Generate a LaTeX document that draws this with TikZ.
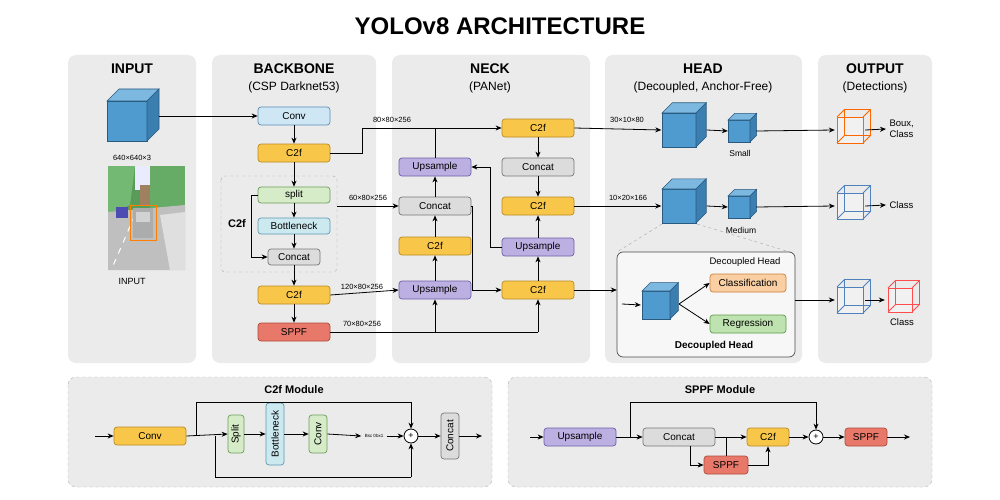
\documentclass[tikz,border=0pt]{standalone}
\usepackage{fontspec}
\setmainfont{Liberation Sans}
\usetikzlibrary{arrows.meta,calc}
\definecolor{panel}{HTML}{EBEBEB}
\definecolor{convF}{HTML}{CFE6F5}\definecolor{convD}{HTML}{5A8FB5}
\definecolor{c2fF}{HTML}{F8C74A}\definecolor{c2fD}{HTML}{B88A20}
\definecolor{spF}{HTML}{D6ECC8}\definecolor{spD}{HTML}{6E9E5A}
\definecolor{bnF}{HTML}{CDE9F0}\definecolor{bnD}{HTML}{5A9AB0}
\definecolor{ccF}{HTML}{DCDCDC}\definecolor{ccD}{HTML}{777777}
\definecolor{sppF}{HTML}{E8796A}\definecolor{sppD}{HTML}{B04A3A}
\definecolor{upF}{HTML}{BCB0E2}\definecolor{upD}{HTML}{6E5FA8}
\definecolor{clF}{HTML}{F9CFA3}\definecolor{clD}{HTML}{C9803A}
\definecolor{rgF}{HTML}{BFE3B0}\definecolor{rgD}{HTML}{5E9A4A}
\definecolor{cubeF}{HTML}{4F9BD0}\definecolor{cubeT}{HTML}{7DB8E0}\definecolor{cubeR}{HTML}{3A7FB0}\definecolor{cubeD}{HTML}{2A5A80}
\newcommand\solidcube[3]{\begin{scope}[shift={(#1,#2)},x=#3pt,y=-#3pt]
\draw[cubeD,fill=cubeF,line width=0.6pt](-1,-1) rectangle (1,1);
\draw[cubeD,fill=cubeT,line width=0.6pt](-1,-1)--(-0.4,-1.6)--(1.6,-1.6)--(1,-1)--cycle;
\draw[cubeD,fill=cubeR,line width=0.6pt](1,-1)--(1.6,-1.6)--(1.6,0.4)--(1,1)--cycle;
\end{scope}}
\newcommand\wirecube[4]{\begin{scope}[shift={(#1,#2)},x=#3pt,y=-#3pt]
\draw[#4,line width=0.8pt,fill=white,fill opacity=0.3](-1,-1) rectangle (1,1);
\draw[#4,line width=0.8pt](-0.4,-1.6) rectangle (1.6,0.4);
\draw[#4,line width=0.8pt](-1,-1)--(-0.4,-1.6) (1,-1)--(1.6,-1.6) (1,1)--(1.6,0.4) (-1,1)--(-0.4,0.4);
\end{scope}}
\tikzset{
 box/.style={draw,rounded corners=3pt,minimum width=72pt,minimum height=18pt,inner sep=1pt,font=\fontsize{10}{12}\selectfont,line width=0.7pt},
 conv/.style={box,fill=convF,draw=convD},
 c2f/.style={box,fill=c2fF,draw=c2fD},
 split/.style={box,fill=spF,draw=spD},
 bneck/.style={box,fill=bnF,draw=bnD},
 concat/.style={box,fill=ccF,draw=ccD},
 sppf/.style={box,fill=sppF,draw=sppD},
 ups/.style={box,fill=upF,draw=upD},
 arr/.style={-{Stealth[length=6pt,width=5pt]},line width=0.8pt},
 ln/.style={line width=0.8pt},
 pan/.style={fill=panel,rounded corners=8pt},
 hd/.style={font=\fontsize{14}{16}\selectfont\bfseries},
 sub/.style={font=\fontsize{12}{14}\selectfont},
 lab/.style={font=\fontsize{7.5}{9}\selectfont},
 vbox/.style={box,rotate=90,minimum height=16pt},
 plus/.style={draw,circle,fill=white,inner sep=0pt,minimum size=14pt,line width=0.8pt,font=\small},
}
\begin{document}
\begin{tikzpicture}[x=1pt,y=-1pt]
\useasboundingbox (0,0) rectangle (1000,500);
\fill[white](0,0) rectangle (1000,500);
\node[font=\fontsize{24}{28}\selectfont\bfseries] (title) at (500,26) {YOLOv8 ARCHITECTURE};
% panels
\fill[pan](68,55) rectangle (196,363);
\fill[pan](212,55) rectangle (376,363);
\fill[pan](392,55) rectangle (590,363);
\fill[pan](605,55) rectangle (802,363);
\fill[pan](818,55) rectangle (932,363);
\draw[pan,draw=gray!60,dashed](68,377) rectangle (492,487);
\draw[pan,draw=gray!60,dashed](508,377) rectangle (932,487);
\node[hd] (h1) at (132,69) {INPUT};
\node[hd] (h2) at (294,69) {BACKBONE};
\node[sub] (s2) at (294,87) {(CSP Darknet53)};
\node[hd] (h3) at (490,69) {NECK};
\node[sub] (s3) at (490,87) {(PANet)};
\node[hd] (h4) at (703,69) {HEAD};
\node[sub] (s4) at (703,87) {(Decoupled, Anchor-Free)};
\node[hd] (h5) at (875,69) {OUTPUT};
\node[sub] (s5) at (875,87) {(Detections)};
% input
\node[minimum width=52pt,minimum height=40pt,inner sep=0] (incube) at (133,121) {};
\solidcube{127}{121}{20}
\node[lab] (indim) at (132,158) {640×640×3};
\begin{scope}
\clip (108,166) rectangle (185,270);
\fill[gray!55!white](108,166) rectangle (185,270);
\fill[green!40!black!65](108,166) rectangle (185,212);
\fill[green!50!black!55](108,166) -- (135,166) -- (130,205) -- (108,215)--cycle;
\fill[blue!8!white](135,166) rectangle (150,190);
\fill[brown!50!gray](140,185) rectangle (150,205);
\fill[green!45!black!60](150,166) rectangle (185,215);
\fill[gray!50](108,212) -- (185,205) -- (185,270) -- (108,270)--cycle;
\fill[gray!25](160,215) -- (185,212) -- (185,270) -- (170,270)--cycle;
\draw[white,line width=1pt,dash pattern=on 6pt off 6pt](135,215)--(112,268);
\fill[blue!40!gray](116,207) rectangle (128,218);
\fill[gray!65](133,208) rectangle (153,238);
\fill[gray!35](136,212) rectangle (150,222);
\draw[orange,line width=0.8pt](130,205) rectangle (156,240);
\end{scope}
\node[inner sep=0,minimum width=77pt,minimum height=104pt] (img) at (146.5,218) {};
\node[font=\fontsize{9}{11}\selectfont] (inlab) at (132,281) {INPUT};
% backbone
\node[conv] (bconv) at (294,116) {Conv};
\node[c2f] (bc2f1) at (294,153) {C2f};
\draw[gray!70,dashed,rounded corners=4pt](221,176) rectangle (337,272);
\node[inner sep=0,minimum width=116pt,minimum height=96pt] (dbox) at (279,224) {};
\node[split,minimum height=16pt] (bsplit) at (294,195) {split};
\node[bneck,minimum height=16pt] (bbn) at (294,226) {Bottleneck};
\node[concat,minimum width=52pt,minimum height=16pt] (bcc) at (294,257) {Concat};
\node[font=\fontsize{11}{13}\selectfont\bfseries] (c2flab) at (237,224) {C2f};
\node[c2f] (bc2f2) at (294,295) {C2f};
\node[sppf] (bsppf) at (294,332) {SPPF};
\draw[arr](incube.east|-bconv)--(bconv);
\draw[arr](bconv)--(bc2f1);
\draw[arr](bc2f1)--(bsplit);
\draw[arr](bsplit)--(bbn);
\draw[arr](bbn)--(bcc);
\draw[arr](bsplit.west)--++(-6,0)|-(bcc.west);
\draw[arr](bcc.south)--(bc2f2);
\draw[arr](bc2f2)--(bsppf);
% neck
\node[ups] (nup1) at (435,167) {Upsample};
\node[concat] (ncc1) at (435,206) {Concat};
\node[c2f] (nc2f1) at (435,246) {C2f};
\node[ups] (nup2) at (435,290) {Upsample};
\node[c2f] (nc2fa) at (538,128) {C2f};
\node[concat] (ncc2) at (538,167) {Concat};
\node[c2f] (nc2fb) at (538,206) {C2f};
\node[ups] (nup3) at (538,247) {Upsample};
\node[c2f] (nc2fc) at (538,290) {C2f};
\draw[arr](bc2f1.east)-|(362,128)--(nc2fa.west);
\node[lab,anchor=south] (l1) at (392,126) {80×80×256};
\draw[ln](nup1.north)--(435,128);
\draw[arr](dbox.east|-ncc1)--(ncc1.west);
\node[lab,anchor=south] (l2) at (368,204) {60×80×256};
\draw[arr](bc2f2.east)--(nup2.west);
\node[lab,anchor=south] (l3) at (362,293) {120×80×256};
\draw[ln](bsppf.east)--(538,332);
\node[lab,anchor=south] (l4) at (362,330) {70×80×256};
\draw[arr](435,332)--(nup2.south);
\draw[arr](538,332)--(nc2fc.south);
\draw[arr](nup2)--(nc2f1);
\draw[arr](nc2f1)--(ncc1);
\draw[arr](ncc1)--(nup1);
\draw[arr](ncc1.east)-|(472,290)--(nc2fc.west);
\draw[arr](nc2fc)--(nup3);
\draw[arr](nup3)--(nc2fb);
\draw[arr](nup3.west)-|(490,167)--(nup1.east);
\draw[arr](nc2fa)--(ncc2);
\draw[arr](ncc2)--(nc2fb);
% head
\node[minimum width=45pt,minimum height=36pt,inner sep=0] (hc1) at (684,130) {};
\solidcube{679}{130}{17}
\node[minimum width=28pt,minimum height=22pt,inner sep=0] (hs1) at (742,131) {};
\solidcube{739}{131}{11}
\node[lab,font=\fontsize{8.5}{10}\selectfont] (small) at (740,153) {Small};
\node[minimum width=45pt,minimum height=36pt,inner sep=0] (hc2) at (684,206) {};
\solidcube{679}{206}{17}
\node[minimum width=28pt,minimum height=22pt,inner sep=0] (hs2) at (742,207) {};
\solidcube{739}{207}{11}
\node[lab,font=\fontsize{8.5}{10}\selectfont] (medium) at (741,230) {Medium};
\draw[arr](nc2fa.east)--(hc1.west);
\node[lab,anchor=south] (l5) at (627,126) {30×10×80};
\draw[arr](nc2fb.east)--(hc2.west);
\node[lab,anchor=south] (l6) at (628,204) {10×20×166};
\draw[arr](hc1.east)--(hs1.west);
\draw[arr](hc2.east)--(hs2.west);
\draw[gray!70,dashed,line width=0.4pt](662,224)--(617,252) (697,224)--(790,252);
\draw[fill=white,fill opacity=0.6,draw=black!70,rounded corners=6pt,line width=0.7pt](617,252) rectangle (795,357);
\node[inner sep=0,minimum width=178pt,minimum height=105pt] (dhbox) at (706,304.5) {};
\node[font=\fontsize{9.5}{11}\selectfont] (dhlab) at (745,262) {Decoupled Head};
\node[minimum size=30pt,inner sep=0] (dcube) at (656,305) {};
\solidcube{656}{305}{14}
\node[box,fill=clF,draw=clD,minimum width=76pt] (cls) at (748,283) {Classification};
\node[box,fill=rgF,draw=rgD,minimum width=76pt] (reg) at (748,324) {Regression};
\node[font=\fontsize{10}{12}\selectfont\bfseries] (dhlab2) at (714,346) {Decoupled Head};
\coordinate (din) at (622,304);
\draw[arr](din)--(dcube.west);
\draw[arr](679,304)--(cls.west);
\draw[arr](679,304)--(reg.west);
\draw[arr](nc2fc.east)--(dhbox.west|-nc2fc);
% output
\node[minimum size=30pt,inner sep=0] (o1) at (850,130) {};
\wirecube{850}{130}{13}{orange!80!red}
\node[minimum size=30pt,inner sep=0] (o2) at (850,206) {};
\wirecube{850}{206}{13}{convD!90!blue}
\node[minimum size=30pt,inner sep=0] (o3) at (850,300) {};
\wirecube{850}{300}{13}{convD!90!blue}
\node[minimum size=30pt,inner sep=0] (o4) at (900,300) {};
\wirecube{900}{300}{12}{red!70!white}
\draw[arr](hs1.east)--(o1.west);
\draw[arr](hs2.east)--(o2.west);
\draw[arr](dhbox.east|-o3)--(o3.west);
\node[font=\fontsize{9.5}{11}\selectfont,align=left,anchor=west] (bc) at (886,129) {Boux,\\Class};
\node[font=\fontsize{9.5}{11}\selectfont,anchor=west] (oc2) at (886,205) {Class};
\node[font=\fontsize{9.5}{11}\selectfont] (oc3) at (902,322) {Class};
\draw[arr](o1.east)--(bc.west);
\draw[arr](o2.east)--(oc2.west);
\draw[arr](o3.east)--(o4.west);
% C2f module
\node[font=\fontsize{11}{13}\selectfont\bfseries] (t1) at (294,390) {C2f Module};
\coordinate (m1in) at (95,436);
\node[c2f] (mconv) at (150,436) {Conv};
\node[split,vbox,minimum width=38pt] (msplit) at (236,434) {Split};
\node[bneck,vbox,minimum width=62pt,minimum height=18pt] (mbn) at (275,434) {Bottleneck};
\node[split,vbox,minimum width=38pt,minimum height=18pt] (mconv2) at (318,434) {Conv};
\node[font=\fontsize{4.5}{5}\selectfont] (mtxt) at (374,436) {Bsc 0bx1};
\node[plus] (mplus) at (411,436) {+};
\node[concat,vbox,minimum width=46pt,minimum height=18pt] (mcc) at (450,436) {Concat};
\coordinate (m1out) at (482,436);
\draw[arr](m1in)--(mconv);
\draw[arr](mconv.east)--(msplit.north);
\draw[ln](196,436)|-(411,402);
\draw[arr](411,402)--(mplus.north);
\draw[ln](215,436)|-(411,477);
\draw[arr](411,477)--(mplus.south);
\draw[arr](msplit.south)--(mbn.north);
\draw[arr](mbn.south)--(mconv2.north);
\draw[arr](mconv2.south)--(mtxt.west);
\draw[arr](mtxt.east)--(mplus.west);
\draw[arr](mplus.east)--(mcc.north);
\draw[arr](mcc.south)--(m1out);
% SPPF module
\node[font=\fontsize{11}{13}\selectfont\bfseries] (t2) at (720,390) {SPPF Module};
\coordinate (s1in) at (530,437);
\node[ups] (sup) at (580,437) {Upsample};
\node[concat] (scc) at (679,437) {Concat};
\node[c2f,minimum width=42pt] (sc2f) at (768,437) {C2f};
\node[sppf,minimum width=44pt] (ssp) at (726,465) {SPPF};
\node[plus] (splus) at (816,437) {+};
\node[sppf,minimum width=42pt] (ssp2) at (866,437) {SPPF};
\coordinate (s1out) at (910,437);
\draw[arr](s1in)--(sup);
\draw[arr](sup)--(scc);
\draw[ln](630,437)|-(816,402);
\draw[arr](816,402)--(splus.north);
\draw[arr](scc)--(sc2f);
\draw[arr](scc.south-|690,446)|-(ssp.west);
\draw[ln](726,437)--(ssp.north);
\draw[arr](ssp.east)-|(sc2f.south);
\draw[arr](sc2f)--(splus);
\draw[arr](splus)--(ssp2);
\draw[arr](ssp2)--(s1out);
\end{tikzpicture}
\end{document}
